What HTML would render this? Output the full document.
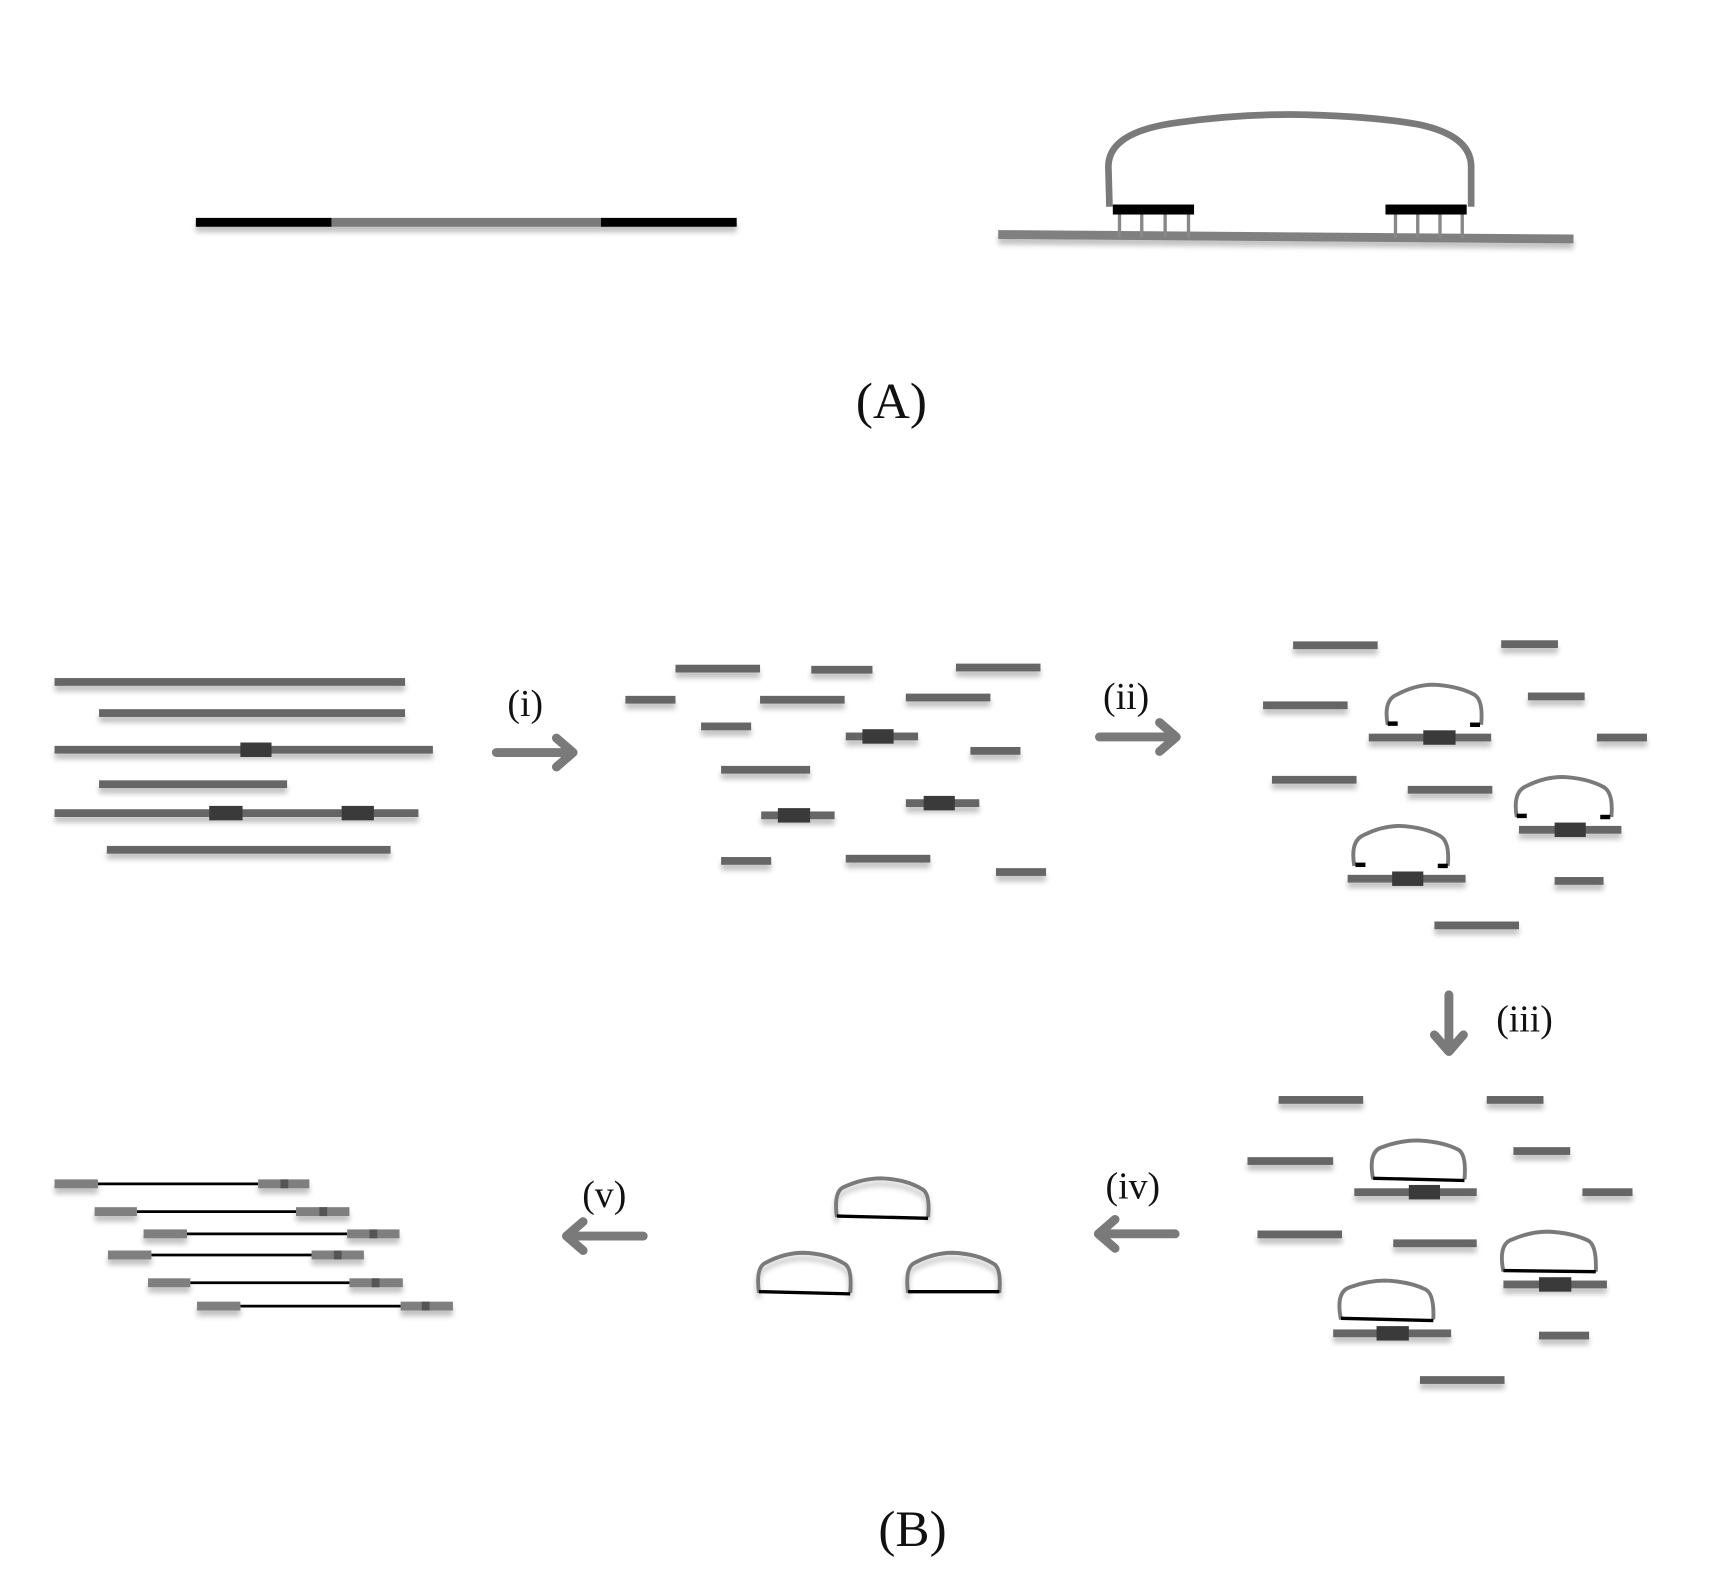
<!DOCTYPE html>
<html><head><meta charset="utf-8"><style>
html,body{margin:0;padding:0;background:#fff;}
svg{display:block;}
text{font-family:"Liberation Serif",serif;fill:#111;}
</style></head><body>
<svg width="1736" height="1584" viewBox="0 0 1560 1425" preserveAspectRatio="none" xmlns="http://www.w3.org/2000/svg">
<defs>
<filter id="sh" x="-10%" y="-50%" width="120%" height="300%">
<feGaussianBlur in="SourceAlpha" stdDeviation="2.5"/><feOffset dy="5"/>
<feComponentTransfer><feFuncA type="linear" slope="0.25"/></feComponentTransfer>
<feMerge><feMergeNode/><feMergeNode in="SourceGraphic"/></feMerge></filter>
</defs>
<!-- (A) -->
<g filter="url(#sh)">
<rect x="176" y="196" width="122" height="8" fill="#000"/>
<rect x="298" y="196" width="242" height="8" fill="#7a7a7a"/>
<rect x="540" y="196" width="122" height="8" fill="#000"/>
<polygon points="897,207 1414,211 1414,219 897,215" fill="#808080"/>
</g>
<g stroke="#888" stroke-width="3">
<line x1="1006" y1="192" x2="1006" y2="214"/><line x1="1026" y1="192" x2="1026" y2="214"/><line x1="1047" y1="192" x2="1047" y2="214"/><line x1="1068" y1="192" x2="1068" y2="214"/>
<line x1="1254" y1="192" x2="1254" y2="214"/><line x1="1274" y1="192" x2="1274" y2="214"/><line x1="1294" y1="192" x2="1294" y2="214"/><line x1="1314" y1="192" x2="1314" y2="214"/>
</g>
<path d="M997,186 L996,150 Q996,118 1060,110 Q1110,103 1160,103 Q1230,104 1275,112 Q1322,122 1322,150 L1322,186" fill="none" stroke="#7a7a7a" stroke-width="6"/>
<rect x="1000" y="184" width="73" height="9" fill="#000"/>
<rect x="1245" y="184" width="73" height="9" fill="#000"/>
<text x="801" y="376" font-size="46" text-anchor="middle">(A)</text>

<!-- B panel 1 -->
<g fill="#666" filter="url(#sh)">
<rect x="49" y="610" width="315" height="7"/>
<rect x="89" y="638" width="275" height="7"/>
<rect x="49" y="671" width="340" height="7"/>
<rect x="89" y="702" width="169" height="7"/>
<rect x="49" y="728" width="327" height="7"/>
<rect x="96" y="761" width="255" height="7"/>
</g>
<g fill="#3a3a3a">
<rect x="216" y="668" width="28" height="13"/>
<rect x="188" y="725" width="30" height="13"/>
<rect x="307" y="725" width="29" height="13"/>
</g>

<!-- arrows -->
<g stroke="#7a7a7a" stroke-width="8" fill="none" stroke-linecap="round" stroke-linejoin="round">
<path d="M446,677 L512,677 M500,664 L515,677 L500,690"/>
<path d="M988,663 L1054,663 M1042,650 L1057,663 L1042,676"/>
<path d="M1302,895 L1302,944 M1289,931 L1302,946 L1315,931"/>
<path d="M1056,1110 L990,1110 M1002,1097 L987,1110 L1002,1123"/>
<path d="M578,1112 L512,1112 M524,1099 L509,1112 L524,1125"/>
</g>
<g font-size="34">
<text x="472" y="644" text-anchor="middle">(i)</text>
<text x="1012" y="638" text-anchor="middle">(ii)</text>
<text x="1370" y="928" text-anchor="middle">(iii)</text>
<text x="1018" y="1078" text-anchor="middle">(iv)</text>
<text x="543" y="1086" text-anchor="middle">(v)</text>
</g>

<!-- panel 2 -->
<g fill="#666" filter="url(#sh)">
<rect x="607" y="598" width="76" height="7"/>
<rect x="729" y="599" width="55" height="7"/>
<rect x="859" y="597" width="76" height="7"/>
<rect x="562" y="626" width="45" height="7"/>
<rect x="683" y="626" width="76" height="7"/>
<rect x="814" y="624" width="76" height="7"/>
<rect x="630" y="650" width="45" height="7"/>
<rect x="760" y="659" width="65" height="7"/>
<rect x="872" y="672" width="45" height="7"/>
<rect x="648" y="689" width="80" height="7"/>
<rect x="684" y="730" width="66" height="7"/>
<rect x="814" y="719" width="66" height="7"/>
<rect x="648" y="771" width="45" height="7"/>
<rect x="760" y="769" width="76" height="7"/>
<rect x="895" y="781" width="45" height="7"/>
</g>
<g fill="#3a3a3a">
<rect x="775" y="656" width="28" height="13"/>
<rect x="699" y="727" width="29" height="13"/>
<rect x="830" y="716" width="28" height="13"/>
</g>

<!-- panel 3 -->
<g fill="#666" filter="url(#sh)">
<rect x="1162" y="577" width="76" height="7"/>
<rect x="1349" y="576" width="51" height="7"/>
<rect x="1135" y="631" width="76" height="7"/>
<rect x="1373" y="623" width="51" height="7"/>
<rect x="1435" y="660" width="45" height="7"/>
<rect x="1230" y="660" width="110" height="7"/>
<rect x="1143" y="698" width="76" height="7"/>
<rect x="1265" y="707" width="76" height="7"/>
<rect x="1365" y="743" width="92" height="7"/>
<rect x="1211" y="787" width="106" height="7"/>
<rect x="1397" y="789" width="44" height="7"/>
<rect x="1289" y="829" width="76" height="7"/>
</g>
<g fill="#3a3a3a">
<rect x="1279" y="657" width="29" height="13"/>
<rect x="1397" y="740" width="28" height="13"/>
<rect x="1251" y="784" width="28" height="13"/>
</g>
<g fill="none" stroke="#7a7a7a" stroke-width="3.5">
<path d="M1247,652 Q1243,630 1255,625 Q1272,616 1288,616 Q1310,617 1325,625 Q1333,630 1331,652"/>
<path d="M1363,735 Q1359,712 1372,707 Q1388,699 1404,699 Q1426,700 1441,708 Q1450,713 1448,735"/>
<path d="M1217,779 Q1213,756 1226,751 Q1242,743 1258,743 Q1280,744 1294,752 Q1303,757 1301,779"/>
</g>
<g fill="#000">
<rect x="1247" y="649" width="9" height="4"/><rect x="1321" y="650" width="9" height="4"/>
<rect x="1363" y="732" width="9" height="4"/><rect x="1438" y="733" width="9" height="4"/>
<rect x="1218" y="776" width="9" height="4"/><rect x="1292" y="777" width="9" height="4"/>
</g>

<!-- panel 4 -->
<g fill="#666" filter="url(#sh)">
<rect x="1149" y="986" width="76" height="7"/>
<rect x="1336" y="986" width="51" height="7"/>
<rect x="1121" y="1041" width="77" height="7"/>
<rect x="1360" y="1032" width="51" height="7"/>
<rect x="1422" y="1069" width="45" height="7"/>
<rect x="1217" y="1069" width="110" height="7"/>
<rect x="1130" y="1107" width="76" height="7"/>
<rect x="1252" y="1115" width="75" height="7"/>
<rect x="1351" y="1152" width="93" height="7"/>
<rect x="1198" y="1196" width="106" height="7"/>
<rect x="1383" y="1198" width="45" height="7"/>
<rect x="1276" y="1238" width="76" height="7"/>
</g>
<g fill="#3a3a3a">
<rect x="1266" y="1066" width="28" height="13"/>
<rect x="1383" y="1149" width="29" height="13"/>
<rect x="1237" y="1193" width="29" height="13"/>
</g>
<g fill="none" stroke="#7a7a7a" stroke-width="3.5">
<path d="M1234,1061 Q1229,1036 1242,1032 Q1258,1026 1274,1026 Q1296,1027 1310,1034 Q1318,1038 1316,1061"/>
<path d="M1351,1144 Q1346,1119 1359,1115 Q1375,1108 1391,1108 Q1413,1109 1427,1116 Q1435,1120 1434,1144"/>
<path d="M1205,1187 Q1200,1162 1213,1158 Q1229,1152 1245,1152 Q1267,1153 1281,1160 Q1289,1164 1288,1187"/>
</g>
<g stroke="#000" stroke-width="3">
<line x1="1234" y1="1060" x2="1316" y2="1062"/>
<line x1="1351" y1="1143" x2="1434" y2="1144"/>
<line x1="1205" y1="1186" x2="1288" y2="1188"/>
</g>

<!-- panel 5 -->
<g fill="none" stroke="#7a7a7a" stroke-width="3.5" filter="url(#sh)">
<path d="M752,1095 Q749,1072 758,1068 Q775,1060 792,1060 Q815,1061 829,1070 Q836,1074 834,1095"/>
<path d="M682,1163 Q679,1140 688,1136 Q705,1127 722,1127 Q745,1128 759,1137 Q766,1141 764,1163"/>
<path d="M816,1163 Q813,1140 822,1136 Q839,1127 856,1127 Q879,1128 893,1137 Q900,1141 898,1163"/>
</g>
<g stroke="#000" stroke-width="3">
<line x1="752" y1="1094" x2="834" y2="1096"/>
<line x1="682" y1="1162" x2="764" y2="1164"/>
<line x1="816" y1="1162" x2="898" y2="1162"/>
</g>

<!-- panel 6 -->
<g stroke="#000" stroke-width="2.5">
<line x1="88" y1="1065" x2="232" y2="1065"/>
<line x1="123" y1="1090" x2="266" y2="1090"/>
<line x1="168" y1="1110" x2="312" y2="1110"/>
<line x1="136" y1="1129" x2="280" y2="1129"/>
<line x1="171" y1="1154" x2="314" y2="1154"/>
<line x1="216" y1="1175" x2="360" y2="1175"/>
</g>
<g fill="#7f7f7f" filter="url(#sh)">
<rect x="49" y="1061" width="39" height="8"/><rect x="232" y="1061" width="46" height="8"/>
<rect x="85" y="1086" width="38" height="8"/><rect x="266" y="1086" width="48" height="8"/>
<rect x="129" y="1106" width="39" height="8"/><rect x="312" y="1106" width="47" height="8"/>
<rect x="97" y="1125" width="39" height="8"/><rect x="280" y="1125" width="47" height="8"/>
<rect x="133" y="1150" width="38" height="8"/><rect x="314" y="1150" width="48" height="8"/>
<rect x="177" y="1171" width="39" height="8"/><rect x="360" y="1171" width="47" height="8"/>
</g>
<g fill="#555">
<rect x="252" y="1061" width="7" height="8"/>
<rect x="287" y="1086" width="7" height="8"/>
<rect x="332" y="1106" width="7" height="8"/>
<rect x="300" y="1125" width="7" height="8"/>
<rect x="334" y="1150" width="7" height="8"/>
<rect x="379" y="1171" width="7" height="8"/>
</g>

<text x="820" y="1391" font-size="46" text-anchor="middle">(B)</text>
</svg>
</body></html>
